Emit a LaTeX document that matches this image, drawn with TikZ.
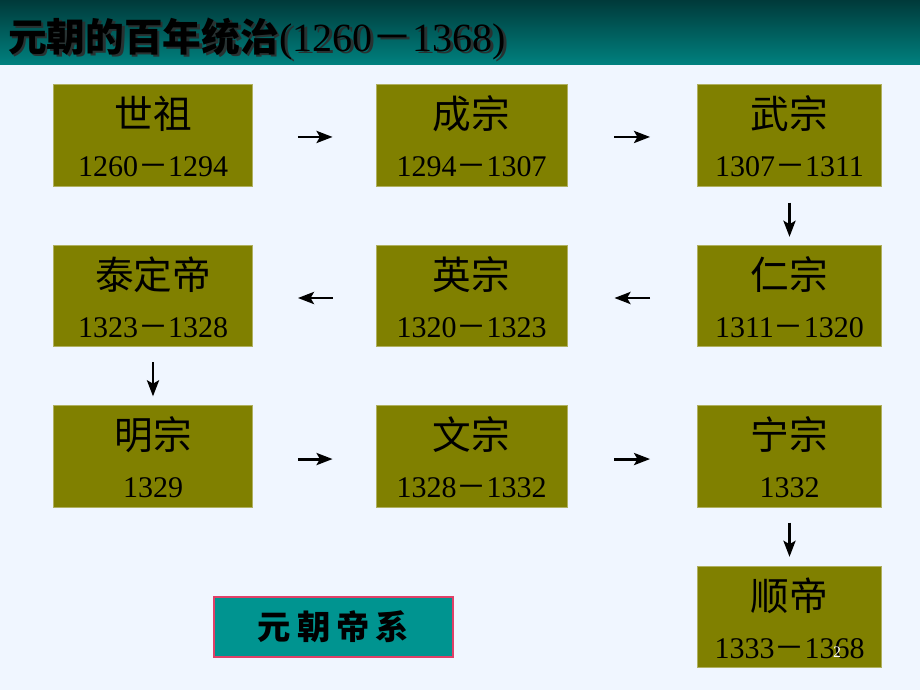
\documentclass[tikz,border=0pt]{standalone}
\usepackage{fontspec}
\setmainfont{Liberation Serif}
\newfontfamily\cjk{Noto Sans CJK SC}
\usetikzlibrary{arrows.meta}
\definecolor{bg}{RGB}{240,246,255}
\definecolor{olivebox}{RGB}{128,128,0}
\definecolor{oliveedge}{RGB}{176,176,96}
\definecolor{tealtop}{RGB}{0,58,58}
\definecolor{tealbot}{RGB}{0,128,126}
\definecolor{tealbox}{RGB}{0,148,144}
\definecolor{rededge}{RGB}{224,64,104}
\definecolor{shadowc}{RGB}{40,50,50}
\newcommand\yrs[2]{#1{\cjk －}#2}
\newcommand\ttl{{\cjk\bfseries 元朝的百年统治}{\fontsize{30}{30}\selectfont\kern0.5pt(1260{\cjk\mdseries －}1368)}}
\tikzset{
  box/.style={rectangle, fill=olivebox, draw=oliveedge, line width=0.6pt, inner sep=0pt, minimum height=101.5*0.75pt},
  boxa/.style={box, minimum width=199*0.75pt},
  boxb/.style={box, minimum width=191*0.75pt},
  boxc/.style={box, minimum width=184*0.75pt},
  nm/.style={font=\cjk\fontsize{29}{29}\selectfont, inner sep=0pt, anchor=base},
  yr/.style={font=\fontsize{22.5}{22.5}\selectfont, inner sep=0pt, anchor=base},
  arr/.style={draw, line width=2.2pt, -{Stealth[length=12pt, width=9pt, inset=2.5pt]}},
  titletext/.style={font=\fontsize{29}{29}\selectfont, inner sep=0pt, anchor=base west},
}
\newcommand\emp[5]{%
  \node[#1] (#2) at (#3) {};
  \node[nm] (#2n) at ([yshift=5.25pt]#2.center) {#4};
  \node[yr] (#2y) at ([yshift=-31.1pt]#2.center) {#5};
}
\begin{document}
\begin{tikzpicture}[x=0.75pt, y=-0.75pt]
\useasboundingbox (0,0) rectangle (920,690);
\fill[bg] (0,0) rectangle (920,690);
\shade[top color=tealtop, bottom color=tealbot] (0,0) rectangle (920,64);
\node[titletext, text=shadowc] (titleshadow) at (10.5,53.5) {\ttl};
\node[titletext, text=black] (title) at (8,51) {\ttl};

\emp{boxa}{b1}{153,135.5}{世祖}{\yrs{1260}{1294}}
\emp{boxb}{b2}{471.5,135.5}{成宗}{\yrs{1294}{1307}}
\emp{boxc}{b3}{789.5,135.5}{武宗}{\yrs{1307}{1311}}
\emp{boxc}{b4}{789.5,296}{仁宗}{\yrs{1311}{1320}}
\emp{boxb}{b5}{471.5,296}{英宗}{\yrs{1320}{1323}}
\emp{boxa}{b6}{153,296}{泰定帝}{\yrs{1323}{1328}}
\emp{boxa}{b7}{153,456.5}{明宗}{1329}
\emp{boxb}{b8}{471.5,456.5}{文宗}{\yrs{1328}{1332}}
\emp{boxc}{b9}{789.5,456.5}{宁宗}{1332}
\emp{boxc}{b10}{789.5,617}{顺帝}{\yrs{1333}{1368}}

\draw[arr, shorten <=33.75pt, shorten >=32.25pt] ([yshift=-1.1pt]b1.east) -- ([yshift=-1.1pt]b2.west);
\draw[arr, shorten <=35.25pt, shorten >=35.25pt] ([yshift=-1.1pt]b2.east) -- ([yshift=-1.1pt]b3.west);
\draw[arr, shorten <=12pt, shorten >=6pt] (b3.south) -- (b4.north);
\draw[arr, shorten <=35.25pt, shorten >=35.25pt] ([yshift=-1.5pt]b4.west) -- ([yshift=-1.5pt]b5.east);
\draw[arr, shorten <=32.25pt, shorten >=33.75pt] ([yshift=-1.5pt]b5.west) -- ([yshift=-1.5pt]b6.east);
\draw[arr, shorten <=11.25pt, shorten >=6.75pt] (b6.south) -- (b7.north);
\draw[arr, shorten <=33.75pt, shorten >=32.25pt] ([yshift=-1.9pt]b7.east) -- ([yshift=-1.9pt]b8.west);
\draw[arr, shorten <=35.25pt, shorten >=35.25pt] ([yshift=-1.9pt]b8.east) -- ([yshift=-1.9pt]b9.west);
\draw[arr, shorten <=11.25pt, shorten >=6.75pt] (b9.south) -- (b10.north);

\node[draw=rededge, fill=tealbox, line width=1.1pt, minimum width=239*0.75pt, minimum height=60*0.75pt, inner sep=0pt, font=\cjk\bfseries\fontsize{25}{25}\selectfont] (legend) at (333.5,627) {元\hspace{4.5pt}朝\hspace{4.5pt}帝\hspace{4.5pt}系};

\node[text=white, font=\fontsize{12}{12}\selectfont, inner sep=0pt] (pg) at (837,652) {2};
\end{tikzpicture}
\end{document}
